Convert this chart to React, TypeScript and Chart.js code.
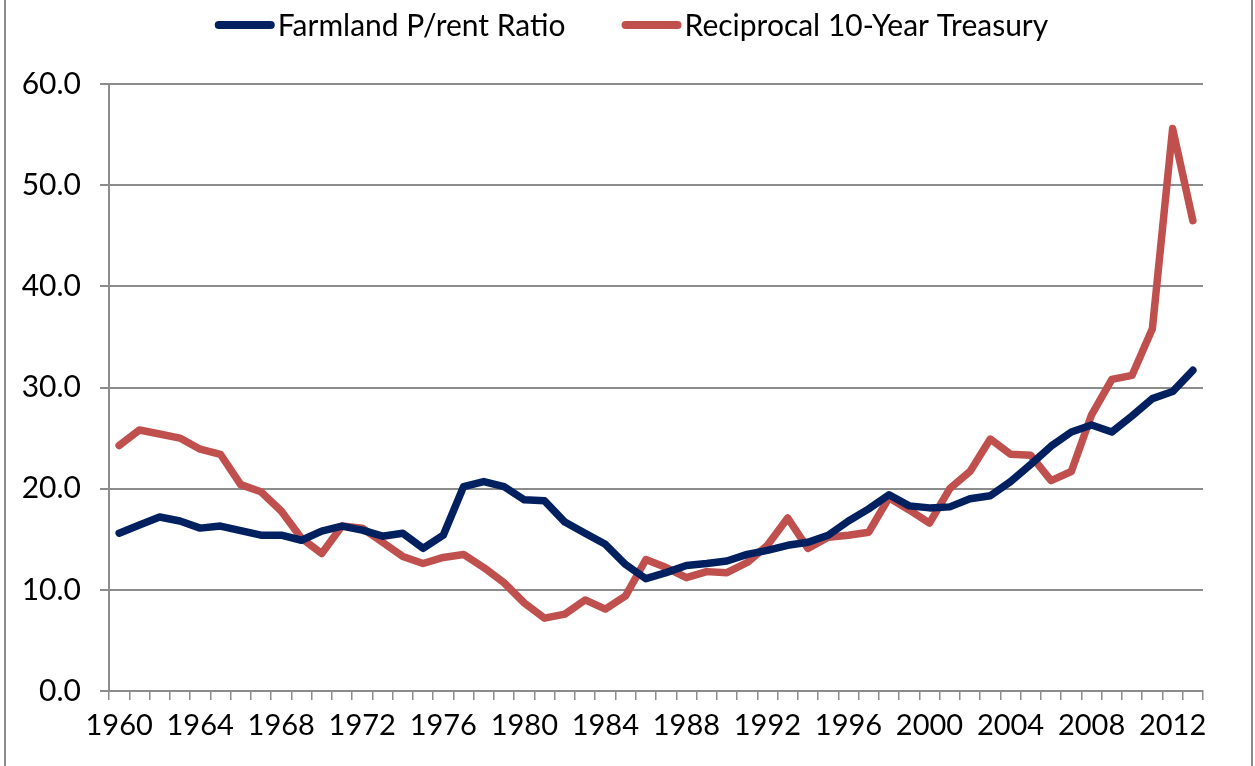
import React, { useEffect, useRef } from 'react';
import { Chart, registerables } from 'chart.js';

Chart.register(...registerables);

const years = [
  '1960', '1961', '1962', '1963', '1964', '1965', '1966', '1967', '1968', '1969',
  '1970', '1971', '1972', '1973', '1974', '1975', '1976', '1977', '1978', '1979',
  '1980', '1981', '1982', '1983', '1984', '1985', '1986', '1987', '1988', '1989',
  '1990', '1991', '1992', '1993', '1994', '1995', '1996', '1997', '1998', '1999',
  '2000', '2001', '2002', '2003', '2004', '2005', '2006', '2007', '2008', '2009',
  '2010', '2011', '2012', '2013',
];

const farmlandPRentRatio = [
  15.6, 16.4, 17.2, 16.8, 16.1, 16.3, 15.85, 15.4, 15.4, 14.9,
  15.8, 16.3, 15.9, 15.3, 15.6, 14.1, 15.4, 20.2, 20.7, 20.2,
  18.9, 18.8, 16.7, 15.6, 14.5, 12.5, 11.1, 11.7, 12.4, 12.6,
  12.85, 13.5, 13.9, 14.4, 14.7, 15.4, 16.8, 18.0, 19.4, 18.3,
  18.1, 18.2, 19.0, 19.3, 20.7, 22.4, 24.2, 25.6, 26.3, 25.6,
  27.2, 28.9, 29.6, 31.7,
];

const reciprocalTreasury = [
  24.26, 25.8, 25.4, 25.0, 23.9, 23.4, 20.4, 19.7, 17.8, 15.1,
  13.6, 16.3, 16.1, 14.7, 13.3, 12.6, 13.2, 13.5, 12.2, 10.7,
  8.7, 7.2, 7.6, 9.0, 8.1, 9.4, 13.0, 12.2, 11.2, 11.8,
  11.7, 12.7, 14.4, 17.1, 14.1, 15.2, 15.4, 15.7, 19.1, 17.9,
  16.6, 20.0, 21.7, 24.9, 23.4, 23.3, 20.8, 21.7, 27.3, 30.8,
  31.2, 35.8, 55.6, 46.5,
];

const seriesLabels = ['Farmland P/rent Ratio', 'Reciprocal 10-Year Treasury'];
const seriesColors = ['#002060', '#C0504D'];

const FONT = 'Lato';
const LEGEND_SIZE = 30;
const X_TICK_SIZE = 29;
const Y_TICK_SIZE = 30;
const GRID = '#8c8c8c';

const frameAndLegend = {
  id: 'frameAndLegend',
  beforeDraw(chart: any) {
    const ctx = chart.ctx;
    ctx.save();
    ctx.strokeStyle = GRID;
    ctx.lineWidth = 2;
    ctx.beginPath();
    ctx.moveTo(5, 0);
    ctx.lineTo(5, chart.height);
    ctx.moveTo(chart.width - 3, 0);
    ctx.lineTo(chart.width - 3, chart.height);
    ctx.stroke();
    ctx.restore();
  },
  afterDraw(chart: any) {
    const ctx = chart.ctx;
    ctx.save();
    ctx.font = `${LEGEND_SIZE}px ${FONT}`;
    ctx.textBaseline = 'middle';
    ctx.textAlign = 'left';
    const lineLen = 60;
    const textGap = 3;
    const itemGap = 56;
    const items = chart.data.datasets.map((ds: any) => ({
      label: ds.label as string,
      color: ds.borderColor as string,
      w: ctx.measureText(ds.label).width,
    }));
    const total =
      items.reduce((s: number, it: any) => s + lineLen + textGap + it.w, 0) +
      itemGap * (items.length - 1);
    let x = chart.width / 2 + 4 - total / 2;
    const y = 25;
    items.forEach((it: any) => {
      ctx.strokeStyle = it.color;
      ctx.lineWidth = 8;
      ctx.lineCap = 'round';
      ctx.beginPath();
      ctx.moveTo(x + 4, y);
      ctx.lineTo(x + lineLen - 4, y);
      ctx.stroke();
      ctx.fillStyle = '#000';
      ctx.fillText(it.label, x + lineLen + textGap, y + 1);
      x += lineLen + textGap + it.w + itemGap;
    });
    ctx.restore();
  },
};

export default function App() {
  const canvasRef = useRef<HTMLCanvasElement | null>(null);

  useEffect(() => {
    document.body.style.margin = '0';
    const canvas = canvasRef.current;
    if (!canvas) return;
    Chart.defaults.font.family = FONT;
    Chart.defaults.color = '#000';

    const chart = new Chart(canvas, {
      type: 'line',
      data: {
        labels: years,
        datasets: [
          {
            label: seriesLabels[0],
            data: farmlandPRentRatio,
            borderColor: seriesColors[0],
            backgroundColor: seriesColors[0],
            borderWidth: 7.5,
            pointRadius: 0,
            tension: 0,
            borderJoinStyle: 'round',
            borderCapStyle: 'round',
          },
          {
            label: seriesLabels[1],
            data: reciprocalTreasury,
            borderColor: seriesColors[1],
            backgroundColor: seriesColors[1],
            borderWidth: 7.5,
            pointRadius: 0,
            tension: 0,
            borderJoinStyle: 'round',
            borderCapStyle: 'round',
          },
        ],
      },
      options: {
        animation: false,
        responsive: true,
        maintainAspectRatio: false,
        layout: { padding: { top: 84, right: 52, left: 0, bottom: 0 } },
        plugins: {
          legend: { display: false },
          tooltip: { enabled: false },
        },
        scales: {
          x: {
            type: 'category',
            offset: true,
            afterFit: (s: any) => {
              s.height = 75;
            },
            grid: {
              offset: true,
              drawOnChartArea: false,
              drawTicks: true,
              tickLength: 9,
              color: GRID,
              lineWidth: 1.5,
            },
            border: { display: true, color: GRID, width: 2 },
            ticks: {
              autoSkip: false,
              maxRotation: 0,
              minRotation: 0,
              padding: 8,
              font: { size: X_TICK_SIZE, family: FONT },
              callback: (_v: any, i: number) => (i % 4 === 0 ? years[i] : ''),
            },
          },
          y: {
            min: 0,
            max: 60,
            afterFit: (s: any) => {
              s.width = 109;
            },
            grid: {
              color: GRID,
              lineWidth: 2,
              drawTicks: true,
              tickLength: 9,
            },
            border: { display: true, color: GRID, width: 2 },
            ticks: {
              stepSize: 10,
              padding: 19,
              font: { size: Y_TICK_SIZE, family: FONT },
              callback: (v: any) => Number(v).toFixed(1),
            },
          },
        },
      },
      plugins: [frameAndLegend],
    });
    return () => chart.destroy();
  }, []);

  return (
    <div style={{ position: 'absolute', left: 0, top: 0, width: 1255, height: 766 }}>
      <canvas ref={canvasRef} />
    </div>
  );
}
